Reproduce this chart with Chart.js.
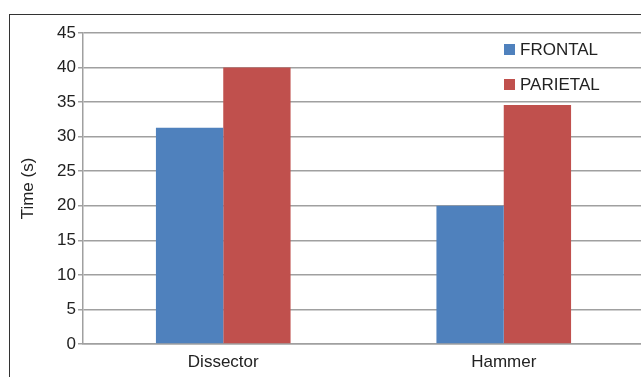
<!DOCTYPE html>
<html>
<head>
<meta charset="utf-8">
<script src="https://cdn.jsdelivr.net/npm/chart.js@4.4.1/dist/chart.umd.min.js"></script>
<style>
  html, body { margin: 0; padding: 0; background: #fff; overflow: hidden; }
  #wrap { width: 641px; height: 377px; overflow: hidden; position: relative; }
  canvas { display: block; }
</style>
</head>
<body>
<div id="wrap"><canvas id="c" width="644" height="377"></canvas></div>
<script>
// Task completion time per tool, by region
const categories = ['Dissector', 'Hammer'];
const seriesNames = ['FRONTAL', 'PARIETAL'];
const frontal = [31.3, 20.0];
const parietal = [40.0, 34.6];
const yTicks = [0, 5, 10, 15, 20, 25, 30, 35, 40, 45];

const colors = ['#4F81BD', '#C0504D'];
const textColor = '#222';
const gridColor = '#a0a0a0';
const fontFamily = '"Liberation Sans", Arial, sans-serif';

// Outer frame around the figure
const framePlugin = {
  id: 'frame',
  beforeDraw(chart) {
    const ctx = chart.ctx;
    ctx.save();
    ctx.fillStyle = '#fff';
    ctx.fillRect(0, 0, chart.width, chart.height);
    ctx.strokeStyle = '#333';
    ctx.lineWidth = 1;
    ctx.strokeRect(9.5, 14.5, 800, 600);
    ctx.restore();
  }
};

// Legend stacked inside the plot area, upper right
const insideLegend = {
  id: 'insideLegend',
  afterDraw(chart) {
    const ctx = chart.ctx;
    ctx.save();
    ctx.font = '17px ' + fontFamily;
    ctx.textBaseline = 'middle';
    ctx.textAlign = 'left';
    chart.data.datasets.forEach((ds, i) => {
      const y = 44 + i * 35;
      ctx.fillStyle = ds.backgroundColor;
      ctx.fillRect(504, y, 11, 11);
      ctx.fillStyle = textColor;
      ctx.fillText(ds.label, 520, y + 6);
    });
    ctx.restore();
  }
};

new Chart(document.getElementById('c'), {
  type: 'bar',
  data: {
    labels: categories,
    datasets: [
      { label: seriesNames[0], data: frontal, backgroundColor: colors[0] },
      { label: seriesNames[1], data: parietal, backgroundColor: colors[1] }
    ]
  },
  options: {
    responsive: false,
    animation: false,
    layout: { padding: { top: 33, right: 0, bottom: 0, left: 0 } },
    datasets: { bar: { categoryPercentage: 0.48, barPercentage: 1.0 } },
    plugins: {
      legend: { display: false },
      tooltip: { enabled: false }
    },
    scales: {
      x: {
        grid: { display: false, drawTicks: false },
        border: { display: true, color: gridColor, width: 1.5 },
        ticks: { color: textColor, font: { family: fontFamily, size: 17 }, padding: 8 },
        afterFit(scale) { scale.height = 33; }
      },
      y: {
        min: 0,
        max: 45,
        afterBuildTicks(scale) { scale.ticks = yTicks.map(v => ({ value: v })); },
        grid: { color: gridColor, lineWidth: 1.5, drawTicks: true, tickLength: 5 },
        border: { display: true, color: gridColor, width: 1.5 },
        ticks: { color: textColor, font: { family: fontFamily, size: 17 }, padding: 2 },
        title: {
          display: true,
          text: 'Time (s)',
          color: textColor,
          font: { family: fontFamily, size: 17 },
          padding: { top: 18, bottom: 0 }
        },
        afterFit(scale) { scale.width = 83; }
      }
    }
  },
  plugins: [framePlugin, insideLegend]
});
</script>
</body>
</html>
